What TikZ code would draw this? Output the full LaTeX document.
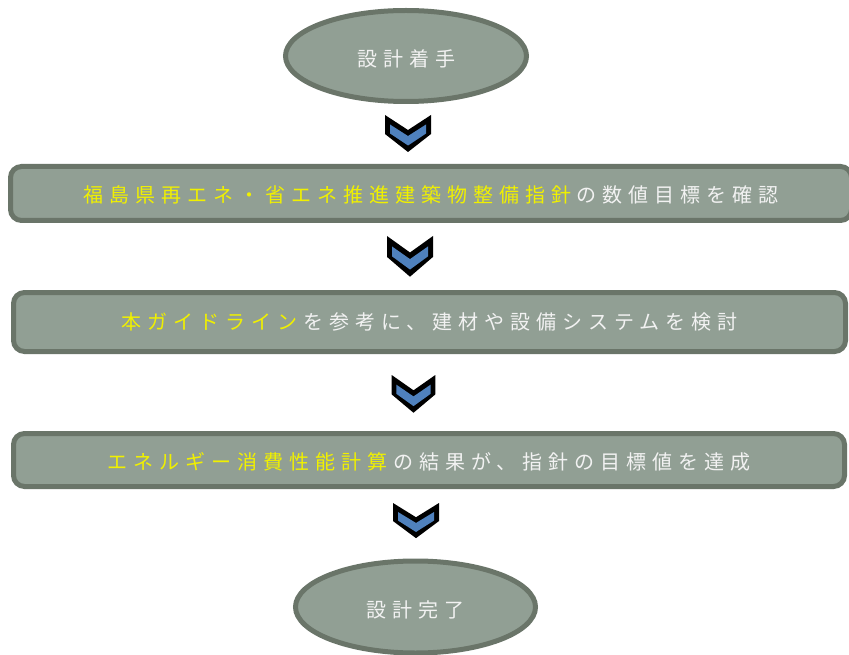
\documentclass[tikz,border=0pt]{standalone}
\usepackage{fontspec}
\newfontfamily\cjk{Noto Sans CJK JP}[LetterSpace=30]
\definecolor{boxfill}{HTML}{919F94}
\definecolor{boxline}{HTML}{6A7569}
\definecolor{txtw}{HTML}{F2F2F2}
\definecolor{txty}{HTML}{F0F000}
\definecolor{chevblue}{HTML}{4F81BD}
\newcommand{\ygap}{\kern6pt}
\newcommand{\lowerby}[2]{\raisebox{-#1}[\height][\depth]{#2}}
\tikzset{
  flowbox/.style={draw=boxline, fill=boxfill, line width=5pt, rounded corners=11pt,
    inner sep=0pt, font=\cjk\fontsize{20}{22}\selectfont, text=txtw},
  flowoval/.style={draw=boxline, fill=boxfill, line width=5pt, ellipse,
    inner sep=0pt, font=\cjk\fontsize{20}{22}\selectfont, text=txtw},
  chev/.pic={
    \fill[black] (-23,0) -- (0,15) -- (23,0) -- (23,19) -- (0,37) -- (-23,19) -- cycle;
    \fill[chevblue] (-18,9.5) -- (0,21) -- (18,9.5) -- (18,18.5) -- (0,30.5) -- (-18,18.5) -- cycle;
  }
}
\usetikzlibrary{shapes.geometric}
\begin{document}
\begin{tikzpicture}[x=1pt,y=-1pt]
\clip (0,0) rectangle (849,655);
\fill[white] (0,0) rectangle (849,655);
\node[flowoval, minimum width=241pt, minimum height=91pt] (start) at (406,56) {\lowerby{3pt}{設計着手}};
\node[flowbox, minimum width=841pt, minimum height=54pt] (b1) at (431,193.5)
  {\lowerby{1pt}{\textcolor{txty}{福島県再エネ・省エネ推進建築物整備指針}\ygap の数値目標を確認}};
\node[flowbox, minimum width=832pt, minimum height=59pt] (b2) at (429.5,322)
  {\textcolor{txty}{本ガイドライン}\ygap を参考に、建材や設備システムを検討};
\node[flowbox, minimum width=831pt, minimum height=53pt] (b3) at (429,460)
  {\lowerby{1.5pt}{\textcolor{txty}{エネルギー消費性能計算}\ygap の結果が、指針の目標値を達成}};
\node[flowoval, minimum width=240pt, minimum height=92pt] (end) at (415.5,607) {\lowerby{3pt}{設計完了}};
\pic at (408,115) {chev};
\pic[yscale=1.1] at (410,236) {chev};
\pic[yscale=1.02,xscale=0.95] at (413.5,375) {chev};
\pic[yscale=0.95] at (416,503) {chev};
\end{tikzpicture}
\end{document}
